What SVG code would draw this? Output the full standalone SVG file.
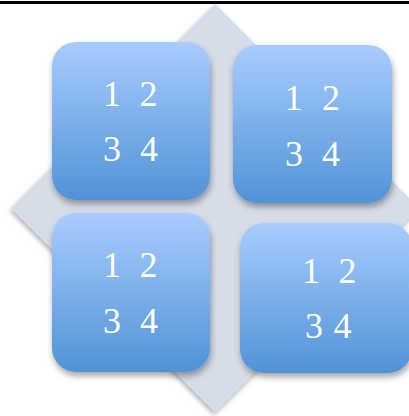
<svg xmlns="http://www.w3.org/2000/svg" width="409" height="416" viewBox="0 0 409 416">
<defs>
<linearGradient id="g" x1="0" y1="0" x2="0" y2="1">
<stop offset="0" stop-color="#a9ccff"/>
<stop offset="1" stop-color="#5093d6"/>
</linearGradient>
<filter id="sh" x="-20%" y="-20%" width="140%" height="140%">
<feDropShadow dx="1" dy="4" stdDeviation="3" flood-color="#000" flood-opacity="0.35"/>
</filter>
<filter id="dsh" x="-10%" y="-10%" width="120%" height="120%">
<feDropShadow dx="-1" dy="3" stdDeviation="2.5" flood-color="#000" flood-opacity="0.3"/>
</filter>
</defs>
<style>
.box{fill:url(#g);filter:url(#sh)}
.t{font-family:"Liberation Serif","Times New Roman",serif;font-size:36px;fill:#fff;text-anchor:middle}
</style>
<rect width="409" height="416" fill="#fff"/>
<g id="background">
<polygon points="215,4 419,208 215,412 11,208" fill="#d7dce9" filter="url(#dsh)"/>
</g>
<line x1="0" y1="2.5" x2="409" y2="2.5" stroke="#000" stroke-width="3"/>
<g id="node1">
<rect class="box" x="52" y="42" width="158" height="158" rx="24"/>
<text class="t" y="106"><tspan x="112">1</tspan><tspan x="148.5">2</tspan></text>
<text class="t" y="161"><tspan x="112">3</tspan><tspan x="149">4</tspan></text>
</g>
<g id="node2">
<rect class="box" x="233" y="45" width="159" height="158" rx="24"/>
<text class="t" y="110"><tspan x="293.5">1</tspan><tspan x="331">2</tspan></text>
<text class="t" y="166"><tspan x="294">3</tspan><tspan x="331">4</tspan></text>
</g>
<g id="node3">
<rect class="box" x="52" y="213" width="158" height="159" rx="24"/>
<text class="t" y="277"><tspan x="112">1</tspan><tspan x="148.5">2</tspan></text>
<text class="t" y="333"><tspan x="112">3</tspan><tspan x="149">4</tspan></text>
</g>
<g id="node4">
<rect class="box" x="240" y="223" width="172" height="150" rx="24"/>
<text class="t" y="283"><tspan x="311">1</tspan><tspan x="347.5">2</tspan></text>
<text class="t" y="338"><tspan x="314">3</tspan><tspan x="342.5">4</tspan></text>
</g>
<g id="connectors"/>
</svg>
